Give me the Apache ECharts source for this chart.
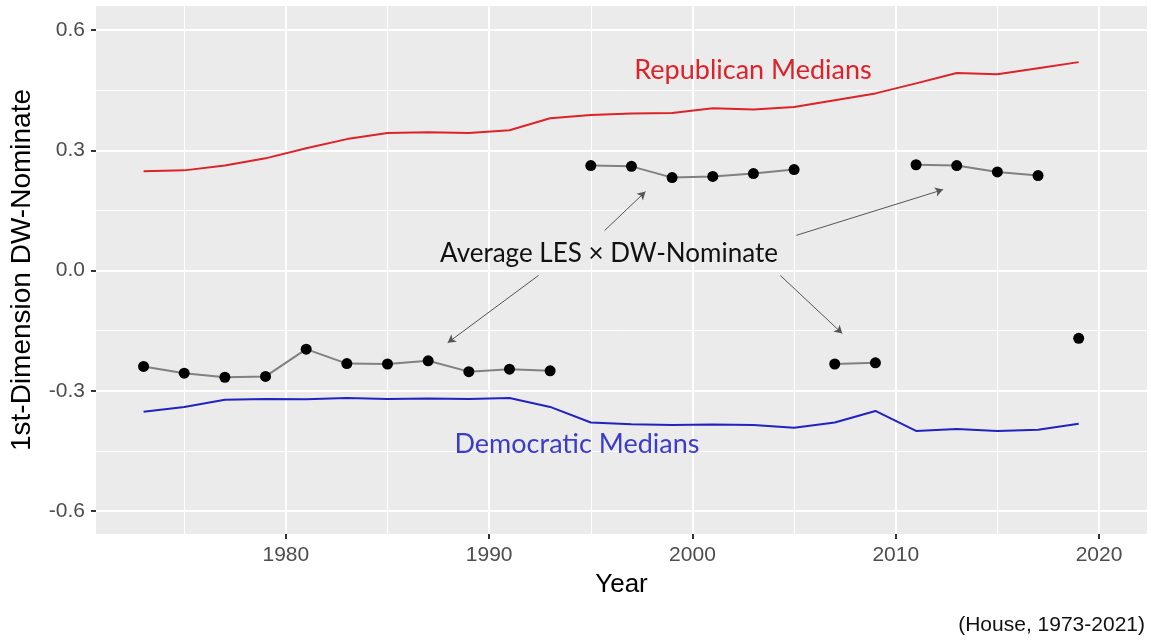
<!DOCTYPE html>
<html>
<head>
<meta charset="utf-8">
<script src="https://cdn.jsdelivr.net/npm/echarts@6/dist/echarts.min.js"></script>
<style>
html,body{margin:0;padding:0;background:#fff;}
#c{width:1151px;height:641px;}
</style>
</head>
<body>
<div id="c"></div>
<script>
// ---- data ----
const years = [1973,1975,1977,1979,1981,1983,1985,1987,1989,1991,1993,1995,1997,1999,2001,2003,2005,2007,2009,2011,2013,2015,2017,2019];
const repMedians = [0.248,0.250,0.262,0.280,0.305,0.328,0.343,0.345,0.343,0.350,0.380,0.388,0.392,0.393,0.405,0.402,0.408,0.425,0.442,0.467,0.493,0.490,0.505,0.520];
const demMedians = [-0.352,-0.340,-0.322,-0.320,-0.321,-0.318,-0.320,-0.319,-0.320,-0.318,-0.340,-0.379,-0.383,-0.385,-0.384,-0.385,-0.392,-0.379,-0.350,-0.400,-0.395,-0.400,-0.397,-0.382];
const lesDw = [-0.239,-0.256,-0.266,-0.264,-0.196,-0.232,-0.233,-0.225,-0.252,-0.246,-0.250,0.262,0.260,0.232,0.235,0.242,0.252,-0.233,-0.230,0.264,0.262,0.246,0.237,-0.169];
const lesGroup = [0,0,0,0,0,0,0,0,0,0,0,1,1,1,1,1,1,2,2,3,3,3,3,4];
const yTicks = [-0.6,-0.3,0.0,0.3,0.6];
const yMinor = [-0.45,-0.15,0.15,0.45];
const xTicks = [1980,1990,2000,2010,2020];
const xMinor = [1975,1985,1995,2005,2015];
const arrows = [
  [[1992.43,-0.012],[1987.96,-0.180]],
  [[1995.68,0.100],[1997.69,0.197]],
  [[2005.11,0.088],[2012.33,0.202]],
  [[2004.32,-0.012],[2007.37,-0.157]]
];

const xMin = 1970.66, xMax = 2022.36, yMin = -0.657, yMax = 0.66;

const chart = echarts.init(document.getElementById('c'), null, {renderer:'canvas'});

function pair(xs, ys){ return xs.map((x,i)=>[x, ys[i]]); }

const groups = {};
years.forEach((y,i)=>{ const g = lesGroup[i]; (groups[g] = groups[g] || []).push([y, lesDw[i]]); });

const lesSeries = Object.keys(groups).map(g => ({
  type:'line', xAxisIndex:0, yAxisIndex:0, data: groups[g],
  symbol:'circle', symbolSize:11, showSymbol:true,
  itemStyle:{color:'#000'}, lineStyle:{color:'#808080', width:2},
  z:5, silent:true, animation:false
}));

const tickFont = {color:'#4d4d4d', fontSize:21, fontFamily:'Liberation Sans, Arial, sans-serif'};

const option = {
  animation:false,
  grid:{left:94, right:4, top:6, bottom:107, show:true, backgroundColor:'#ebebeb', borderWidth:0},
  xAxis:[{
    type:'value', min:xMin, max:xMax,
    axisLine:{show:false, onZero:false},
    axisTick:{show:true, length:5, lineStyle:{color:'#333', width:2}, customValues:xTicks},
    axisLabel:{show:true, customValues:xTicks, margin:11, ...tickFont, formatter:v=>String(Math.round(v))},
    splitLine:{show:true, lineStyle:{color:'#fff', width:2}},
    name:'Year', nameLocation:'middle', nameGap:38,
    nameTextStyle:{color:'#000', fontSize:26, fontFamily:'Liberation Sans, Arial, sans-serif'}
  },{
    type:'value', min:xMin, max:xMax, show:true,
    axisLine:{show:false, onZero:false}, axisTick:{show:false, customValues:xMinor},
    axisLabel:{show:false, customValues:xMinor},
    splitLine:{show:true, lineStyle:{color:'#fff', width:1}}
  }],
  yAxis:[{
    type:'value', min:yMin, max:yMax,
    axisLine:{show:false, onZero:false},
    axisTick:{show:true, length:5, lineStyle:{color:'#333', width:2}, customValues:yTicks},
    axisLabel:{show:true, customValues:yTicks, margin:11, ...tickFont, formatter:v=>{ const r=Math.round(v*10)/10; return (r===0?0:r).toFixed(1);} },
    splitLine:{show:true, lineStyle:{color:'#fff', width:2}},
    name:'1st-Dimension DW-Nominate', nameLocation:'middle', nameGap:60,
    nameTextStyle:{color:'#000', fontSize:28, fontFamily:'Liberation Sans, Arial, sans-serif'}
  },{
    type:'value', min:yMin, max:yMax, show:true,
    axisLine:{show:false, onZero:false}, axisTick:{show:false, customValues:yMinor},
    axisLabel:{show:false, customValues:yMinor},
    splitLine:{show:true, lineStyle:{color:'#fff', width:1}}
  }],
  series:[
    {type:'line', xAxisIndex:0, yAxisIndex:0, data:pair(years, repMedians), symbol:'none', lineStyle:{color:'#dc2329', width:2}, z:3, silent:true},
    {type:'line', xAxisIndex:0, yAxisIndex:0, data:pair(years, demMedians), symbol:'none', lineStyle:{color:'#2222c0', width:2}, z:3, silent:true},
    ...lesSeries,
    {type:'line', xAxisIndex:0, yAxisIndex:0, data:[], silent:true,
     markLine:{silent:true, symbol:['none','arrow'], symbolSize:[7,8], label:{show:false},
       lineStyle:{color:'#555', width:1, type:'solid'},
       data: arrows.map(a => [{coord:a[0]},{coord:a[1]}])
     }}
  ],
  graphic:[
    {type:'text', z:100, zlevel:0, style:{text:'Republican Medians', x:753, y:70, align:'center', verticalAlign:'middle', fill:'#dc2329', font:'27px Lato, "Open Sans", sans-serif'}},
    {type:'text', z:100, zlevel:0, style:{text:'Democratic Medians', x:577, y:444, align:'center', verticalAlign:'middle', fill:'#3c3cc8', font:'27px Lato, "Open Sans", sans-serif'}},
    {type:'text', z:100, zlevel:0, style:{text:'Average LES \u00d7 DW-Nominate', x:609, y:254, align:'center', verticalAlign:'middle', fill:'#111', font:'26px Lato, "Open Sans", sans-serif'}},
    {type:'text', z:100, zlevel:0, style:{text:'(House, 1973-2021)', x:1145, y:625, align:'right', verticalAlign:'middle', fill:'#111', font:'21px "Liberation Sans", Arial, sans-serif'}}
  ]
};
chart.setOption(option);
</script>
</body>
</html>
